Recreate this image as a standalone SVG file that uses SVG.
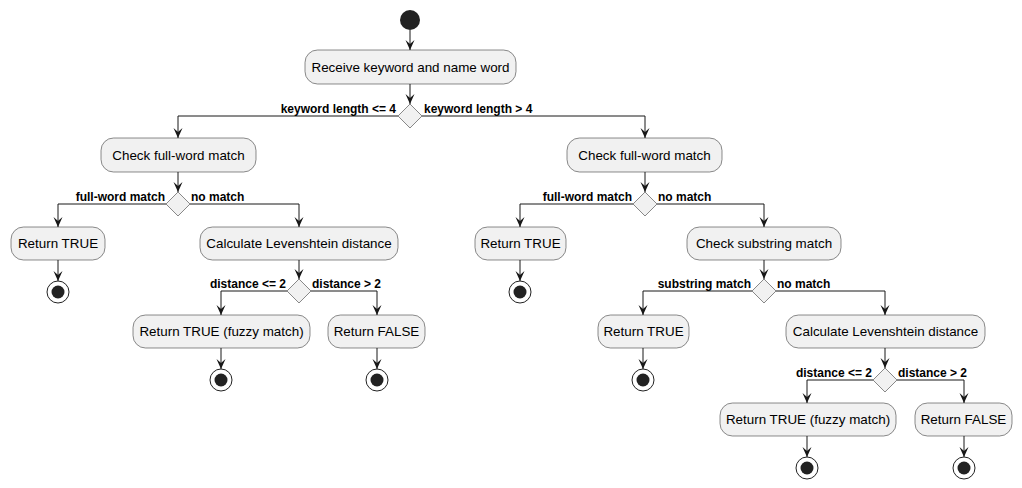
<svg xmlns="http://www.w3.org/2000/svg" width="1022" height="488" viewBox="0 0 1022 488">
<style>
.box{fill:#F1F1F1;stroke:#181818;stroke-width:0.5}
.dia{fill:#F1F1F1;stroke:#181818;stroke-width:0.5}
.t{font-family:"Liberation Sans",Arial,sans-serif;font-size:13.4px;fill:#000;text-anchor:middle}
.l{font-family:"Liberation Sans",Arial,sans-serif;font-size:12px;font-weight:bold;fill:#000}
.r{text-anchor:end}
.ln{fill:none;stroke:#181818;stroke-width:1}
.eo{fill:none;stroke:#222;stroke-width:1}
.ei{fill:#222}
</style>
<defs>
<marker id="ah" viewBox="0 0 10 10" refX="10" refY="5" markerWidth="10" markerHeight="10" markerUnits="userSpaceOnUse" orient="auto">
<path d="M0,0.5 L10,5 L0,9.5 L4,5 Z" fill="#181818"/>
</marker>
</defs>
<g id="connectors">
<path class="ln" d="M410,30 V50" marker-end="url(#ah)"/>
<path class="ln" d="M410,84 V104" marker-end="url(#ah)"/>
<path class="ln" d="M398,116 H178 V138" marker-end="url(#ah)"/>
<path class="ln" d="M422,116 H645 V138" marker-end="url(#ah)"/>
<path class="ln" d="M178,172 V192" marker-end="url(#ah)"/>
<path class="ln" d="M166,204 H58 V227" marker-end="url(#ah)"/>
<path class="ln" d="M190,204 H299 V227" marker-end="url(#ah)"/>
<path class="ln" d="M58,260 V281" marker-end="url(#ah)"/>
<path class="ln" d="M299,260 V279" marker-end="url(#ah)"/>
<path class="ln" d="M287,291 H221 V315" marker-end="url(#ah)"/>
<path class="ln" d="M311,291 H377 V315" marker-end="url(#ah)"/>
<path class="ln" d="M221,348 V369" marker-end="url(#ah)"/>
<path class="ln" d="M377,348 V369" marker-end="url(#ah)"/>
<path class="ln" d="M645,172 V192" marker-end="url(#ah)"/>
<path class="ln" d="M633,204 H520 V227" marker-end="url(#ah)"/>
<path class="ln" d="M657,204 H764 V227" marker-end="url(#ah)"/>
<path class="ln" d="M520,260 V281" marker-end="url(#ah)"/>
<path class="ln" d="M764,260 V279" marker-end="url(#ah)"/>
<path class="ln" d="M752,291 H643 V315" marker-end="url(#ah)"/>
<path class="ln" d="M776,291 H885 V315" marker-end="url(#ah)"/>
<path class="ln" d="M643,348 V369" marker-end="url(#ah)"/>
<path class="ln" d="M885,348 V368" marker-end="url(#ah)"/>
<path class="ln" d="M873,380 H807 V403" marker-end="url(#ah)"/>
<path class="ln" d="M897,380 H964 V403" marker-end="url(#ah)"/>
<path class="ln" d="M807,436 V457" marker-end="url(#ah)"/>
<path class="ln" d="M964,436 V457" marker-end="url(#ah)"/>
</g>
<g id="start"><circle cx="410" cy="20" r="10" fill="#222"/></g>
<g id="receive"><rect class="box" x="305" y="50" width="211" height="34" rx="12.5"/><text class="t" x="410.5" y="71.5">Receive keyword and name word</text></g>
<g id="d1"><polygon class="dia" points="410,104 422,116 410,128 398,116"/><text class="l r" x="396" y="113">keyword length &lt;= 4</text><text class="l" x="424" y="113">keyword length &gt; 4</text></g>
<g id="checkL"><rect class="box" x="101" y="138" width="155" height="34" rx="12.5"/><text class="t" x="178.5" y="159.5">Check full-word match</text></g>
<g id="d2"><polygon class="dia" points="178,192 190,204 178,216 166,204"/><text class="l r" x="165" y="201">full-word match</text><text class="l" x="191" y="201">no match</text></g>
<g id="retL1"><rect class="box" x="11" y="227" width="94" height="33" rx="12.5"/><text class="t" x="58" y="248">Return TRUE</text></g>
<g id="endL1"><circle class="eo" cx="58" cy="292" r="11"/><circle class="ei" cx="58" cy="292" r="6.5"/></g>
<g id="levL"><rect class="box" x="200" y="227" width="198" height="33" rx="12.5"/><text class="t" x="299" y="248">Calculate Levenshtein distance</text></g>
<g id="d3"><polygon class="dia" points="299,279 311,291 299,303 287,291"/><text class="l r" x="286" y="288">distance &lt;= 2</text><text class="l" x="312" y="288">distance &gt; 2</text></g>
<g id="fuzzyL"><rect class="box" x="133" y="315" width="177" height="33" rx="12.5"/><text class="t" x="221.5" y="336">Return TRUE (fuzzy match)</text></g>
<g id="falseL"><rect class="box" x="328" y="315" width="97" height="33" rx="12.5"/><text class="t" x="376.5" y="336">Return FALSE</text></g>
<g id="endL2"><circle class="eo" cx="221" cy="380" r="11"/><circle class="ei" cx="221" cy="380" r="6.5"/></g>
<g id="endL3"><circle class="eo" cx="377" cy="380" r="11"/><circle class="ei" cx="377" cy="380" r="6.5"/></g>
<g id="checkR"><rect class="box" x="567" y="138" width="155" height="34" rx="12.5"/><text class="t" x="644.5" y="159.5">Check full-word match</text></g>
<g id="d4"><polygon class="dia" points="645,192 657,204 645,216 633,204"/><text class="l r" x="632" y="201">full-word match</text><text class="l" x="658" y="201">no match</text></g>
<g id="retR1"><rect class="box" x="475" y="227" width="91" height="33" rx="12.5"/><text class="t" x="520.5" y="248">Return TRUE</text></g>
<g id="endR1"><circle class="eo" cx="520" cy="292" r="11"/><circle class="ei" cx="520" cy="292" r="6.5"/></g>
<g id="subR"><rect class="box" x="687" y="227" width="154" height="33" rx="12.5"/><text class="t" x="764" y="248">Check substring match</text></g>
<g id="d5"><polygon class="dia" points="764,279 776,291 764,303 752,291"/><text class="l r" x="751" y="288">substring match</text><text class="l" x="777" y="288">no match</text></g>
<g id="retR2"><rect class="box" x="598" y="315" width="91" height="33" rx="12.5"/><text class="t" x="643.5" y="336">Return TRUE</text></g>
<g id="endR2"><circle class="eo" cx="643" cy="380" r="11"/><circle class="ei" cx="643" cy="380" r="6.5"/></g>
<g id="levR"><rect class="box" x="786" y="315" width="199" height="33" rx="12.5"/><text class="t" x="885.5" y="336">Calculate Levenshtein distance</text></g>
<g id="d6"><polygon class="dia" points="885,368 897,380 885,392 873,380"/><text class="l r" x="872" y="377">distance &lt;= 2</text><text class="l" x="898" y="377">distance &gt; 2</text></g>
<g id="fuzzyR"><rect class="box" x="720" y="403" width="176" height="33" rx="12.5"/><text class="t" x="808" y="424">Return TRUE (fuzzy match)</text></g>
<g id="falseR"><rect class="box" x="915" y="403" width="97" height="33" rx="12.5"/><text class="t" x="963.5" y="424">Return FALSE</text></g>
<g id="endR3"><circle class="eo" cx="807" cy="468" r="11"/><circle class="ei" cx="807" cy="468" r="6.5"/></g>
<g id="endR4"><circle class="eo" cx="964" cy="468" r="11"/><circle class="ei" cx="964" cy="468" r="6.5"/></g>
</svg>
